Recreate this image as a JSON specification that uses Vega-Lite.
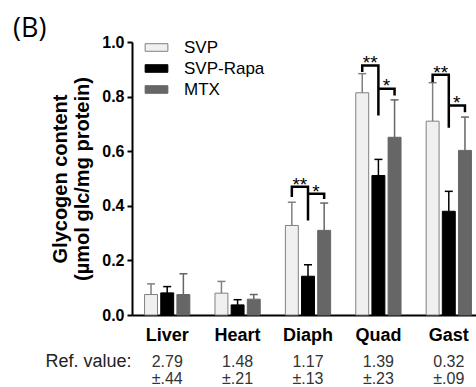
{
  "$schema": "https://vega.github.io/schema/vega-lite/v6.json",
  "width": 352,
  "height": 273,
  "autosize": "none",
  "padding": {"left": 132, "top": 42, "right": 0, "bottom": 72},
  "background": "white",
  "config": {
    "view": {"stroke": null},
    "font": "Liberation Sans",
    "axis": {"domainColor": "#000", "domainWidth": 2, "grid": false},
    "axisY": {"values": [0, 0.2, 0.4, 0.6, 0.8, 1], "format": ".1f", "labelFontSize": 16, "labelFontWeight": "bold", "labelColor": "#000", "labelPadding": 3,
              "tickSize": 5, "tickWidth": 2, "tickColor": "#000", "titleFontSize": 20, "titleFontWeight": "bold", "titleColor": "#000", "titleLineHeight": 22, "titlePadding": 9}
  },
  "title": {"text": "(B)", "anchor": "start", "frame": "group", "dx": -119, "dy": 11, "offset": 2, "fontSize": 27, "font": "Open Sans", "fontWeight": "normal", "color": "#000"},
  "params": [
    {"name": "refv", "value": {"Liver": ["2.79", "±.44"], "Heart": ["1.48", "±.21"], "Diaph": ["1.17", "±.13"], "Quad": ["1.39", "±.23"], "Gast": ["0.32", "±.09"]}}
  ],
  "datasets": {
    "bars": [
      {"organ": "Liver", "group": "SVP", "mean": 0.075, "upper": 0.114},
      {"organ": "Liver", "group": "SVP-Rapa", "mean": 0.081, "upper": 0.104},
      {"organ": "Liver", "group": "MTX", "mean": 0.075, "upper": 0.151},
      {"organ": "Heart", "group": "SVP", "mean": 0.080, "upper": 0.123},
      {"organ": "Heart", "group": "SVP-Rapa", "mean": 0.037, "upper": 0.056},
      {"organ": "Heart", "group": "MTX", "mean": 0.058, "upper": 0.075},
      {"organ": "Diaph", "group": "SVP", "mean": 0.328, "upper": 0.413},
      {"organ": "Diaph", "group": "SVP-Rapa", "mean": 0.142, "upper": 0.184},
      {"organ": "Diaph", "group": "MTX", "mean": 0.310, "upper": 0.410},
      {"organ": "Quad", "group": "SVP", "mean": 0.814, "upper": 0.884},
      {"organ": "Quad", "group": "SVP-Rapa", "mean": 0.511, "upper": 0.570},
      {"organ": "Quad", "group": "MTX", "mean": 0.651, "upper": 0.788},
      {"organ": "Gast", "group": "SVP", "mean": 0.710, "upper": 0.851},
      {"organ": "Gast", "group": "SVP-Rapa", "mean": 0.380, "upper": 0.453},
      {"organ": "Gast", "group": "MTX", "mean": 0.603, "upper": 0.725}
    ],
    "brackets": [
      {"organ": "Diaph", "bracket": "D1", "group": "SVP", "y": 0.432, "ord": 1},
      {"organ": "Diaph", "bracket": "D1", "group": "SVP", "y": 0.470, "ord": 2},
      {"organ": "Diaph", "bracket": "D1", "group": "SVP-Rapa", "y": 0.470, "ord": 3},
      {"organ": "Diaph", "bracket": "D1", "group": "SVP-Rapa", "y": 0.346, "ord": 4},
      {"organ": "Diaph", "bracket": "D2", "group": "SVP-Rapa", "y": 0.444, "ord": 1},
      {"organ": "Diaph", "bracket": "D2", "group": "MTX", "y": 0.444, "ord": 2},
      {"organ": "Diaph", "bracket": "D2", "group": "MTX", "y": 0.425, "ord": 3},
      {"organ": "Quad", "bracket": "Q1", "group": "SVP", "y": 0.890, "ord": 1},
      {"organ": "Quad", "bracket": "Q1", "group": "SVP", "y": 0.914, "ord": 2},
      {"organ": "Quad", "bracket": "Q1", "group": "SVP-Rapa", "y": 0.914, "ord": 3},
      {"organ": "Quad", "bracket": "Q1", "group": "SVP-Rapa", "y": 0.731, "ord": 4},
      {"organ": "Quad", "bracket": "Q2", "group": "SVP-Rapa", "y": 0.829, "ord": 1},
      {"organ": "Quad", "bracket": "Q2", "group": "MTX", "y": 0.829, "ord": 2},
      {"organ": "Quad", "bracket": "Q2", "group": "MTX", "y": 0.804, "ord": 3},
      {"organ": "Gast", "bracket": "G1", "group": "SVP", "y": 0.853, "ord": 1},
      {"organ": "Gast", "bracket": "G1", "group": "SVP", "y": 0.880, "ord": 2},
      {"organ": "Gast", "bracket": "G1", "group": "SVP-Rapa", "y": 0.880, "ord": 3},
      {"organ": "Gast", "bracket": "G1", "group": "SVP-Rapa", "y": 0.686, "ord": 4},
      {"organ": "Gast", "bracket": "G2", "group": "SVP-Rapa", "y": 0.767, "ord": 1},
      {"organ": "Gast", "bracket": "G2", "group": "MTX", "y": 0.767, "ord": 2},
      {"organ": "Gast", "bracket": "G2", "group": "MTX", "y": 0.743, "ord": 3}
    ],
    "stars": [
      {"organ": "Diaph", "group": "SVP", "y": 0.478, "label": "**"},
      {"organ": "Diaph", "group": "SVP-Rapa", "y": 0.452, "label": "*"},
      {"organ": "Quad", "group": "SVP", "y": 0.922, "label": "**"},
      {"organ": "Quad", "group": "SVP-Rapa", "y": 0.838, "label": "*"},
      {"organ": "Gast", "group": "SVP", "y": 0.888, "label": "**"},
      {"organ": "Gast", "group": "SVP-Rapa", "y": 0.775, "label": "*"}
    ]
  },
  "layer": [
    {
      "data": {"name": "bars"},
      "mark": {"type": "bar", "strokeWidth": 1},
      "encoding": {
        "x": {"field": "organ", "type": "nominal", "sort": ["Liver", "Heart", "Diaph", "Quad", "Gast"],
              "scale": {"paddingInner": 0.357, "paddingOuter": 0.1786},
              "axis": {"title": null, "orient": "bottom", "domain": true, "ticks": false, "labelAngle": 0, "labelFontSize": 18, "labelFontWeight": "bold", "labelColor": "#000", "labelPadding": 11}},
        "xOffset": {"field": "group", "type": "nominal", "sort": ["SVP", "SVP-Rapa", "MTX"], "scale": {"paddingInner": 0.2, "paddingOuter": 0}},
        "y": {"field": "mean", "type": "quantitative", "scale": {"domain": [0, 1], "nice": false},
              "title": ["Glycogen content", "(µmol glc/mg protein)"]},
        "fill": {"field": "group", "type": "nominal", "sort": ["SVP", "SVP-Rapa", "MTX"],
                 "scale": {"domain": ["SVP", "SVP-Rapa", "MTX"], "range": ["#f0f0f0", "#000000", "#666666"]},
                 "legend": {"title": null, "orient": "none", "legendX": 16, "legendY": -3, "symbolType": "M-1.5,-0.5H1.5V0.5H-1.5Z", "symbolSize": 230, "symbolStrokeWidth": 1, "labelFontSize": 17, "labelColor": "#000", "labelOffset": 19, "rowPadding": 3}},
        "stroke": {"field": "group", "type": "nominal", "sort": ["SVP", "SVP-Rapa", "MTX"],
                   "scale": {"domain": ["SVP", "SVP-Rapa", "MTX"], "range": ["#808080", "#000000", "#666666"]},
                   "legend": {"title": null, "orient": "none", "legendX": 16, "legendY": -3, "symbolType": "M-1.5,-0.5H1.5V0.5H-1.5Z", "symbolSize": 230, "symbolStrokeWidth": 1, "labelFontSize": 17, "labelColor": "#000", "labelOffset": 19, "rowPadding": 3}}
      }
    },
    {
      "data": {"name": "bars"},
      "mark": {"type": "rule", "strokeWidth": 1.5},
      "encoding": {
        "x": {"field": "organ", "type": "nominal", "sort": ["Liver", "Heart", "Diaph", "Quad", "Gast"], "axis": null},
        "xOffset": {"field": "group", "type": "nominal", "sort": ["SVP", "SVP-Rapa", "MTX"]},
        "y": {"field": "mean", "type": "quantitative", "title": ["Glycogen content", "(µmol glc/mg protein)"]},
        "y2": {"field": "upper"},
        "stroke": {"field": "group", "type": "nominal", "legend": null}
      }
    },
    {
      "data": {"name": "bars"},
      "mark": {"type": "point", "shape": "M-1,0H1", "size": 64, "strokeWidth": 1.5, "opacity": 1},
      "encoding": {
        "x": {"field": "organ", "type": "nominal", "sort": ["Liver", "Heart", "Diaph", "Quad", "Gast"], "axis": null},
        "xOffset": {"field": "group", "type": "nominal", "sort": ["SVP", "SVP-Rapa", "MTX"]},
        "y": {"field": "upper", "type": "quantitative", "title": ["Glycogen content", "(µmol glc/mg protein)"]},
        "stroke": {"field": "group", "type": "nominal", "legend": null}
      }
    },
    {
      "data": {"name": "brackets"},
      "mark": {"type": "line", "color": "#000", "strokeWidth": 2.5, "strokeJoin": "miter", "strokeCap": "butt"},
      "encoding": {
        "x": {"field": "organ", "type": "nominal", "sort": ["Liver", "Heart", "Diaph", "Quad", "Gast"], "axis": null},
        "xOffset": {"field": "group", "type": "nominal", "sort": ["SVP", "SVP-Rapa", "MTX"]},
        "y": {"field": "y", "type": "quantitative", "title": ["Glycogen content", "(µmol glc/mg protein)"]},
        "detail": {"field": "bracket", "type": "nominal"},
        "order": {"field": "ord", "type": "quantitative"}
      }
    },
    {
      "data": {"name": "stars"},
      "mark": {"type": "text", "dx": 8, "align": "center", "baseline": "middle", "fontSize": 19, "color": "#000"},
      "encoding": {
        "x": {"field": "organ", "type": "nominal", "sort": ["Liver", "Heart", "Diaph", "Quad", "Gast"],
              "axis": {"orient": "bottom", "domain": false, "ticks": false, "labelAngle": 0, "labelFontSize": 16, "labelFontWeight": "normal", "labelColor": "#333", "labelPadding": 38, "labelLineHeight": 17,
                       "labelExpr": "refv[datum.value]",
                       "title": "Ref. value:", "titleFontSize": 18, "titleFontWeight": "normal", "titleColor": "#222", "titleAlign": "right", "titleBaseline": "alphabetic", "titleX": -1, "titleY": 51}},
        "xOffset": {"field": "group", "type": "nominal", "sort": ["SVP", "SVP-Rapa", "MTX"]},
        "y": {"field": "y", "type": "quantitative", "title": ["Glycogen content", "(µmol glc/mg protein)"]},
        "text": {"field": "label"}
      }
    }
  ],
  "resolve": {"axis": {"x": "independent"}}
}
